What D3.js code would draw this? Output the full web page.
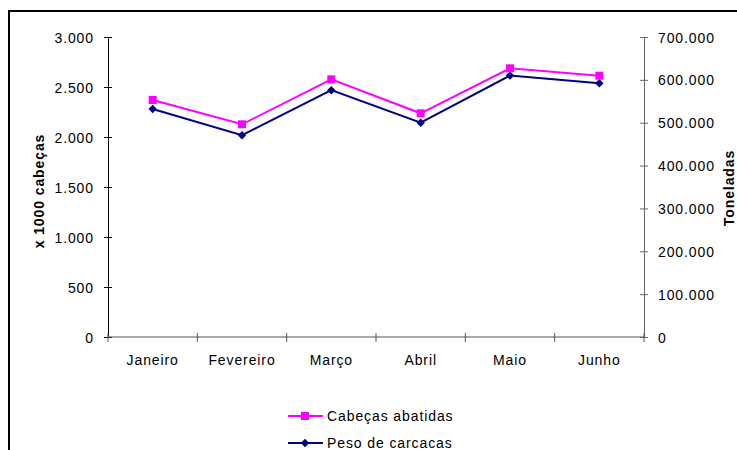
<!DOCTYPE html>
<html>
<head>
<meta charset="utf-8">
<script src="https://cdn.jsdelivr.net/npm/d3@7/dist/d3.min.js"></script>
<style>
  html, body { margin: 0; padding: 0; background: #fff; }
  svg { display: block; }
  text { font-family: "Liberation Sans", Arial, sans-serif; font-size: 14px; letter-spacing: 0.9px; fill: #000; }
  .title { font-weight: bold; }
</style>
</head>
<body>
<svg id="chart" width="737" height="450"></svg>
<script>
// Monthly slaughter figures
const months = ["Janeiro", "Fevereiro", "Março", "Abril", "Maio", "Junho"];
const cabecas = [2370, 2127, 2577, 2237, 2687, 2613];          // x 1000 cabeças
const peso = [532000, 471000, 576000, 500000, 610000, 592000];  // toneladas
const leftTicks = [0, 500, 1000, 1500, 2000, 2500, 3000];
const rightTicks = [0, 100000, 200000, 300000, 400000, 500000, 600000, 700000];
const seriesNames = ["Cabeças abatidas", "Peso de carcacas"];

const ptBR = d3.formatLocale({ decimal: ",", thousands: ".", grouping: [3], currency: ["R$", ""] });
const fmt = ptBR.format(",d");

const svg = d3.select("#chart");

// frame
svg.append("path")
  .attr("d", "M9,460 L9,11 L740,11")
  .attr("fill", "none").attr("stroke", "#000").attr("stroke-width", 2);

const plotLeft = 108, plotRight = 644, plotTop = 37, plotBottom = 337;

const x = d3.scaleBand().domain(months).range([plotLeft, plotRight]);
const yL = d3.scaleLinear().domain([0, 3000]).range([plotBottom, plotTop]);
const yR = d3.scaleLinear().domain([0, 700000]).range([plotBottom, plotTop]);

// left axis
const gL = svg.append("g").attr("transform", `translate(${plotLeft},0)`)
  .call(d3.axisLeft(yL).tickValues(leftTicks).tickFormat(fmt).tickSize(4).tickPadding(10));
gL.select(".domain").attr("stroke", "#000");
gL.selectAll(".tick line").attr("x1", 4).attr("x2", -4).attr("stroke", "#000");
gL.selectAll(".tick text").attr("font-family", null).attr("font-size", null).attr("dy", "0.36em");

// right axis
const gR = svg.append("g").attr("transform", `translate(${plotRight},0)`)
  .call(d3.axisRight(yR).tickValues(rightTicks).tickFormat(fmt).tickSize(4).tickPadding(10));
gR.select(".domain").attr("stroke", "#666");
gR.selectAll(".tick line").attr("x1", -4).attr("x2", 4).attr("stroke", "#666");
gR.selectAll(".tick text").attr("font-family", null).attr("font-size", null).attr("dy", "0.36em");

// category axis: labels centred in bands, ticks on band edges
const gX = svg.append("g").attr("transform", `translate(0,${plotBottom})`)
  .call(d3.axisBottom(x).tickSize(0).tickPadding(18));
gX.select(".domain").attr("stroke", "#555").attr("d", `M${plotLeft},0H${plotRight}`);
gX.selectAll(".tick text").attr("font-family", null).attr("font-size", null);
const edges = months.map(m => x(m)).concat([x(months[months.length - 1]) + x.bandwidth()]);
gX.selectAll(".edge").data(edges).join("line")
  .attr("class", "edge")
  .attr("x1", d => d).attr("x2", d => d)
  .attr("y1", -4).attr("y2", 5)
  .attr("stroke", "#555");

// axis titles
svg.append("text").attr("class", "title")
  .attr("transform", "translate(44,191) rotate(-90)")
  .attr("text-anchor", "middle").text("x 1000 cabeças");
svg.append("text").attr("class", "title")
  .attr("transform", "translate(734,188) rotate(-90)")
  .attr("text-anchor", "middle").text("Toneladas");

const cx = m => x(m) + x.bandwidth() / 2;

// series: Peso de carcacas (right axis)
const linePeso = d3.line().x((d, i) => cx(months[i])).y(d => yR(d));
svg.append("path").datum(peso).attr("d", linePeso)
  .attr("fill", "none").attr("stroke", "#000080").attr("stroke-width", 2);
svg.selectAll(".dia").data(peso).join("path")
  .attr("class", "dia")
  .attr("transform", (d, i) => `translate(${cx(months[i])},${yR(d)}) rotate(45)`)
  .attr("d", d3.symbol().type(d3.symbolSquare).size(36))
  .attr("fill", "#000080");

// series: Cabeças abatidas (left axis)
const lineCab = d3.line().x((d, i) => cx(months[i])).y(d => yL(d));
svg.append("path").datum(cabecas).attr("d", lineCab)
  .attr("fill", "none").attr("stroke", "#FF00FF").attr("stroke-width", 2);
svg.selectAll(".sq").data(cabecas).join("path")
  .attr("class", "sq")
  .attr("transform", (d, i) => `translate(${cx(months[i])},${yL(d)})`)
  .attr("d", d3.symbol().type(d3.symbolSquare).size(64))
  .attr("fill", "#FF00FF");

// legend
const legend = [
  { name: seriesNames[0], color: "#FF00FF", shape: "square", y: 416 },
  { name: seriesNames[1], color: "#000080", shape: "diamond", y: 443 }
];
const lg = svg.selectAll(".lg").data(legend).join("g").attr("class", "lg")
  .attr("transform", d => `translate(0,${d.y})`);
lg.append("line").attr("x1", 288).attr("x2", 323).attr("y1", 0).attr("y2", 0)
  .attr("stroke", d => d.color).attr("stroke-width", 2);
lg.append("path")
  .attr("transform", d => d.shape === "diamond" ? "translate(305,0) rotate(45)" : "translate(305,0)")
  .attr("d", d => d.shape === "diamond" ? d3.symbol().type(d3.symbolSquare).size(36)() : d3.symbol().type(d3.symbolSquare).size(64)())
  .attr("fill", d => d.color);
lg.append("text").attr("x", 327).attr("y", 0).attr("dy", "0.36em").text(d => d.name);
</script>
</body>
</html>
